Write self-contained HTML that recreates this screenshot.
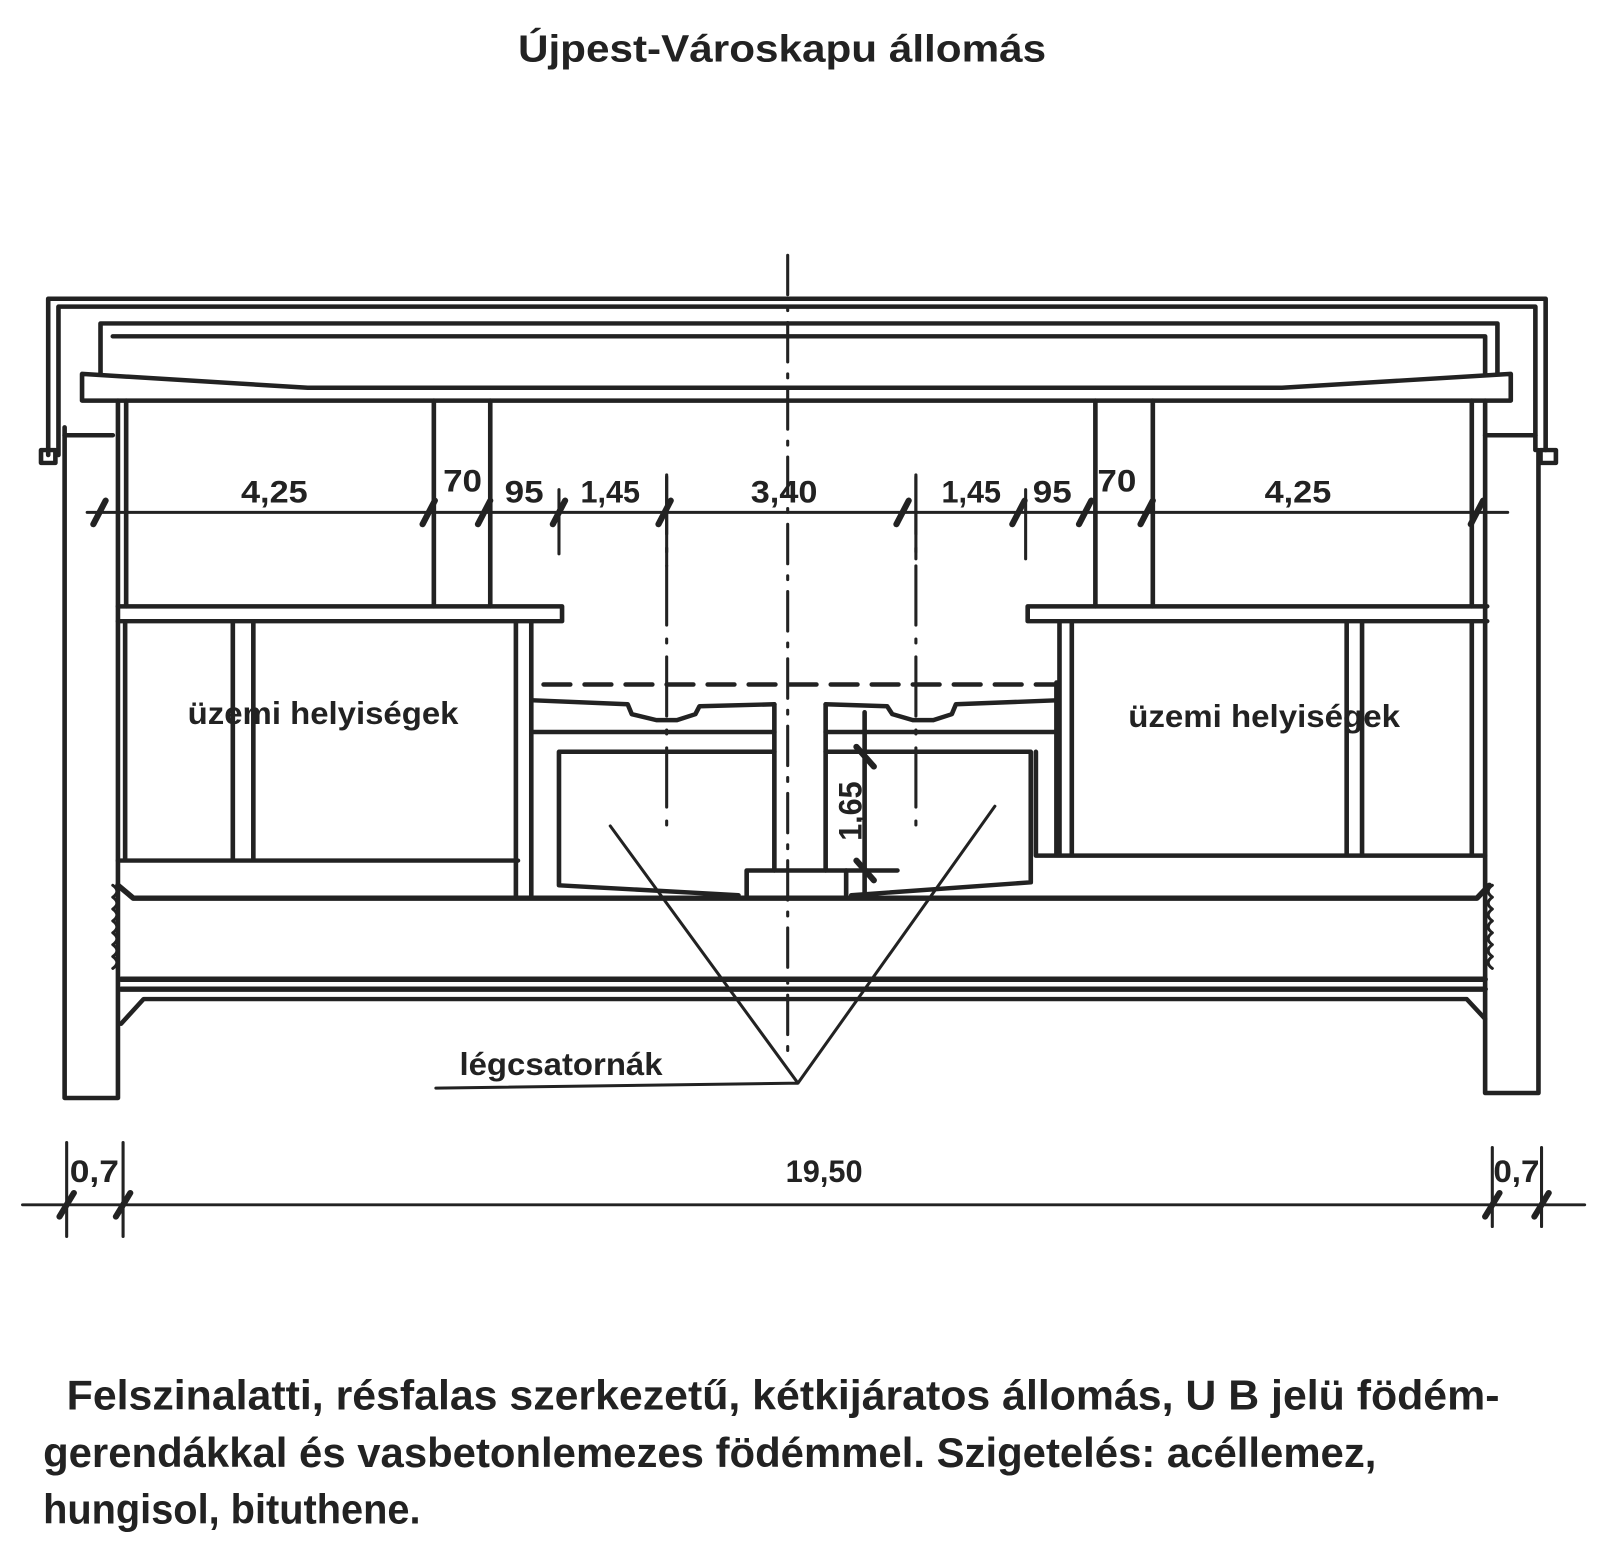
<!DOCTYPE html>
<html><head><meta charset="utf-8"><style>
html,body{margin:0;padding:0;background:#fff;}
svg{display:block;}
text{font-family:"Liberation Sans Narrow","Liberation Sans",sans-serif;fill:#222;font-weight:bold;}
</style></head><body>
<svg width="1600" height="1552" viewBox="0 0 1560 1569" preserveAspectRatio="none" xmlns="http://www.w3.org/2000/svg">
<g fill="none" stroke="#222" stroke-width="4.5" stroke-linejoin="round" stroke-linecap="round">
<path d="M47 460 V302 H1507 V455"/>
<path d="M57 460 V310 H1497 V455"/>
<rect x="40" y="455" width="14" height="13"/>
<rect x="1502" y="455" width="15" height="13"/>
<path d="M98 378 V327 H1460 V378"/>
<path d="M110 340 H1448 V378"/>
<path d="M80 378 L300 392 L1250 392 L1473 378 V405 H80 Z"/>
<path d="M63 432 V1110 H115 V405"/>
<path d="M1448 405 V1105 H1500 V455"/>
<path d="M63 440 H110 M1448 440 H1497"/>
<path d="M123 405 V613 M423 405 V613 M478 405 V613 M1068 405 V613 M1124 405 V613 M1435 405 V613"/>
<path d="M115 613 H548 V628 H115"/>
<path d="M1450 613 H1002 V628 H1450"/>
<path d="M122 628 V870 M227 628 V870 M247 628 V870 M503 628 V908 M518 628 V908 M115 870 H505"/>
<path d="M1033 628 V865 M1045 628 V865 M1313 628 V865 M1328 628 V865 M1435 628 V865 M1010 865 H1448 M1030 690 V865 M1010 760 V865"/>
<path d="M115 895 L130 908 H1440 L1452 895" stroke-width="5.5"/>
<path d="M118 990 H1448 M118 1000 H1448" stroke-width="5.5"/>
<path d="M118 1035 L140 1010 H1430 L1448 1030"/>
<path d="M110 895 q8 6 0 12 q8 6 0 12 q8 6 0 12 q8 6 0 12 q8 6 0 12 q8 6 0 12 q8 6 0 12" stroke-width="3"/>
<path d="M1455 895 q-8 6 0 12 q-8 6 0 12 q-8 6 0 12 q-8 6 0 12 q-8 6 0 12 q-8 6 0 12 q-8 6 0 12" stroke-width="3"/>
<path d="M530 692 H1030" stroke-dasharray="26 14"/>
<path d="M520 708 L612 712 L616 722 L640 728 L660 728 L678 722 L682 714 L755 712 M805 712 L865 714 L870 722 L890 728 L910 728 L928 722 L932 712 L1030 708"/>
<path d="M520 740 H755 M805 740 H1030"/>
<path d="M755 760 H545 V895 L720 905 M805 760 H1005 V892 L830 905"/>
<path d="M755 712 V880 M805 712 V880"/>
<path d="M728 905 V880 H825 V905"/>
<path d="M843 720 V905 M825 880 H875"/>
<path d="M835 755 L852 775 M835 870 L852 890" stroke-width="6"/>
<path d="M768 258 V1070" stroke-width="3" stroke-dasharray="40 12 4 12"/>
<path d="M650 480 V840 M893 480 V840" stroke-width="3" stroke-dasharray="60 14 4 14"/>
<path d="M595 835 L778 1095 L970 815 M425 1100 L778 1095" stroke-width="3"/>
<path d="M85 518 H1470" stroke-width="3"/>
<path d="M545 495 V560 M650 482 V572 M893 482 V565 M1000 495 V565" stroke-width="3"/>
<g stroke-width="6">
<path d="M91 530 L103 506 M412 530 L424 506 M466 530 L478 506 M539 530 L551 506 M642 530 L654 506 M874 530 L886 506 M987 530 L999 506 M1052 530 L1064 506 M1112 530 L1124 506 M1434 530 L1446 506"/>
</g>
<path d="M22 1218 H1545" stroke-width="3"/>
<path d="M65 1155 V1250 M120 1155 V1250 M1455 1160 V1240 M1503 1160 V1240" stroke-width="3"/>
<path d="M58 1230 L72 1206 M113 1230 L127 1206 M1448 1230 L1462 1206 M1496 1230 L1510 1206" stroke-width="6"/>
</g>
<g font-size="32">
<text x="505" y="62" font-size="38" textLength="515" lengthAdjust="spacingAndGlyphs">Újpest-Városkapu állomás</text>
<text x="235" y="508" textLength="65" lengthAdjust="spacingAndGlyphs">4,25</text>
<text x="432" y="497" textLength="38" lengthAdjust="spacingAndGlyphs">70</text>
<text x="492" y="508" textLength="38" lengthAdjust="spacingAndGlyphs">95</text>
<text x="566" y="508" textLength="58" lengthAdjust="spacingAndGlyphs">1,45</text>
<text x="732" y="508" textLength="65" lengthAdjust="spacingAndGlyphs">3,40</text>
<text x="918" y="508" textLength="58" lengthAdjust="spacingAndGlyphs">1,45</text>
<text x="1007" y="508" textLength="38" lengthAdjust="spacingAndGlyphs">95</text>
<text x="1070" y="497" textLength="38" lengthAdjust="spacingAndGlyphs">70</text>
<text x="1233" y="508" textLength="65" lengthAdjust="spacingAndGlyphs">4,25</text>
<text x="183" y="732" textLength="264" lengthAdjust="spacingAndGlyphs">üzemi helyiségek</text>
<text x="1100" y="735" textLength="265" lengthAdjust="spacingAndGlyphs">üzemi helyiségek</text>
<text x="448" y="1087" textLength="198" lengthAdjust="spacingAndGlyphs">légcsatornák</text>
<text transform="translate(840,850) rotate(-90)" textLength="60" lengthAdjust="spacingAndGlyphs">1,65</text>
<text x="68" y="1195" textLength="48" lengthAdjust="spacingAndGlyphs">0,7</text>
<text x="766" y="1195" textLength="75" lengthAdjust="spacingAndGlyphs">19,50</text>
<text x="1456" y="1195" textLength="45" lengthAdjust="spacingAndGlyphs">0,7</text>
</g>
<g font-size="42">
<text x="65" y="1425" textLength="1397" lengthAdjust="spacingAndGlyphs">Felszinalatti, résfalas szerkezetű, kétkijáratos állomás, U B jelü födém-</text>
<text x="42" y="1483" textLength="1300" lengthAdjust="spacingAndGlyphs">gerendákkal és vasbetonlemezes födémmel. Szigetelés: acéllemez,</text>
<text x="42" y="1540" textLength="368" lengthAdjust="spacingAndGlyphs">hungisol, bituthene.</text>
</g>
</svg>
</body></html>
